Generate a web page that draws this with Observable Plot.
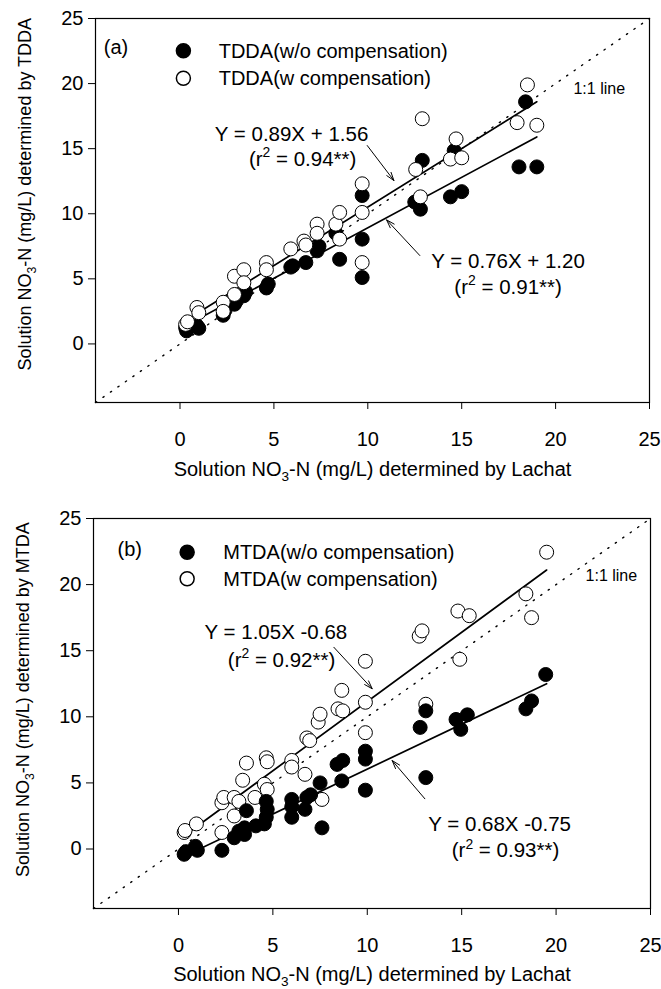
<!DOCTYPE html>
<html><head><meta charset="utf-8">
<script src="https://cdn.jsdelivr.net/npm/d3@7"></script>
<script src="https://cdn.jsdelivr.net/npm/@observablehq/plot@0.6"></script>
<style>
body{margin:0;background:#fff}
#chart svg{display:block}
</style>
</head><body><div id="chart"></div>
<script>
// ---------- data ----------
const xTicks = [0, 5, 10, 15, 20, 25];
const yTicks = [0, 5, 10, 15, 20, 25];
const oneToOne = [-4.5, 25];

// Panel (a) TDDA
const lachatA_wo = [0.3, 0.35, 0.9, 1.0, 2.3, 2.4, 2.9, 3.0, 3.4, 3.5, 4.6, 4.7, 5.9, 6.0, 6.7, 7.3, 7.4, 8.3, 8.5, 9.7, 9.7, 9.7, 12.5, 12.8, 12.9, 14.4, 14.6, 15.0, 18.05, 18.4, 19.0];
const tddaWo     = [1.25, 1.0, 1.4, 1.2, 2.2, 2.6, 3.05, 3.3, 3.7, 4.0, 4.3, 4.6, 5.9, 6.0, 6.25, 7.15, 7.5, 8.5, 6.5, 11.4, 8.05, 5.1, 10.9, 10.35, 14.1, 11.3, 14.85, 11.7, 13.6, 18.6, 13.6];
const lachatA_w  = [0.3, 0.4, 0.9, 1.0, 2.3, 2.3, 2.9, 2.9, 3.4, 3.4, 4.6, 4.6, 5.9, 6.6, 6.7, 7.3, 7.3, 8.3, 8.5, 8.5, 9.7, 9.7, 9.7, 12.55, 12.8, 12.9, 14.4, 14.7, 15.0, 17.95, 18.5, 19.0];
const tddaW      = [1.5, 1.7, 2.8, 2.4, 3.2, 2.5, 5.2, 3.8, 5.7, 4.7, 6.25, 5.7, 7.3, 7.9, 7.6, 9.2, 8.5, 9.2, 10.1, 8.05, 12.3, 10.1, 6.25, 13.4, 11.3, 17.3, 14.2, 15.75, 14.3, 17.0, 19.9, 16.8];
const fitXA      = [0.3, 19.0];
const fitA_w     = [1.8, 18.6];
const fitA_wo    = [1.4, 15.9];

// Panel (b) MTDA
const lachatB_wo = [0.3, 0.4, 0.9, 1.0, 2.3, 2.95, 3.2, 3.5, 3.5, 3.6, 4.1, 4.55, 4.65, 4.7, 4.65, 6.0, 6.0, 6.0, 6.7, 6.8, 7.0, 7.5, 7.6, 8.4, 8.7, 8.65, 9.9, 9.9, 9.9, 12.8, 13.1, 13.1, 14.7, 14.95, 15.3, 18.4, 18.7, 19.45];
const mtdaWo     = [-0.4, -0.2, 0.2, -0.1, -0.1, 0.85, 1.35, 1.6, 1.1, 2.9, 1.75, 1.9, 2.4, 3.0, 3.6, 2.4, 3.2, 3.75, 3.0, 3.9, 4.1, 5.0, 1.6, 6.4, 6.7, 5.15, 7.4, 6.8, 4.45, 9.2, 10.45, 5.4, 9.8, 9.05, 10.15, 10.6, 11.2, 13.2];
const lachatB_w  = [0.3, 0.35, 0.95, 2.3, 2.3, 2.4, 2.95, 2.95, 3.2, 3.4, 3.6, 4.05, 4.55, 4.65, 4.7, 4.7, 6.0, 6.0, 6.7, 6.8, 6.95, 7.4, 7.5, 7.6, 8.45, 8.7, 8.65, 9.9, 9.9, 9.9, 12.75, 12.9, 13.1, 14.8, 14.9, 15.4, 18.4, 18.7, 19.5];
const mtdaW      = [1.25, 1.4, 1.9, 1.25, 3.5, 3.9, 3.9, 2.5, 3.6, 5.2, 6.5, 3.9, 4.9, 6.9, 6.6, 4.5, 6.7, 6.2, 5.65, 8.4, 8.2, 9.6, 10.2, 3.75, 10.6, 10.45, 12.0, 14.2, 11.1, 8.8, 16.1, 16.5, 10.95, 18.0, 14.35, 17.65, 19.3, 17.5, 22.45];
const fitXB      = [0.3, 19.5];
const fitB_w     = [1.0, 21.1];
const fitB_wo    = [-0.55, 12.5];

// texts
const xTitle = "Solution NO₃-N (mg/L) determined by Lachat";
const yTitleA = "Solution NO₃-N (mg/L) determined by TDDA";
const yTitleB = "Solution NO₃-N (mg/L) determined by MTDA";
const legendA = ["TDDA(w/o compensation)", "TDDA(w compensation)"];
const legendB = ["MTDA(w/o compensation)", "MTDA(w compensation)"];
const eqA = ["Y = 0.89X + 1.56", "(r² = 0.94**)", "Y = 0.76X + 1.20", "(r² = 0.91**)"];
const eqB = ["Y = 1.05X -0.68", "(r² = 0.92**)", "Y = 0.68X -0.75", "(r² = 0.93**)"];
const oneLabel = "1:1 line";

const FONT = "'Liberation Sans', Arial, Helvetica, sans-serif";
const T = (s, o) => Plot.text([s], {text: d => d, fill: "black", ...o});

function panel(c) {
  const dotsWo = Plot.dot(c.yWo, {x: c.xWo, y: c.yWo, r: 7, fill: "black", stroke: "black", strokeWidth: 1});
  const dotsW = Plot.dot(c.yW, {x: c.xW, y: c.yW, r: 7, fill: "white", stroke: "black", strokeWidth: 1});
  return Plot.plot({
    width: 661, height: c.height,
    marginLeft: c.ml, marginRight: c.mr, marginTop: c.mt, marginBottom: c.mb,
    x: {domain: [-4.5, 25]},
    y: {domain: [-4.5, 25]},
    style: {fontFamily: FONT, fontSize: "20px", background: "white", color: "black", overflow: "visible"},
    marks: [
      Plot.line(oneToOne, {x: d => d, y: d => d, stroke: "black", strokeWidth: 1.4, strokeDasharray: "1.3,7.8", strokeLinecap: "round"}),
      Plot.line(c.fitW, {x: c.fitX, y: c.fitW, stroke: "black", strokeWidth: 1.7}),
      Plot.line(c.fitWo, {x: c.fitX, y: c.fitWo, stroke: "black", strokeWidth: 1.7}),
      ...(c.openOnTop ? [dotsWo, dotsW] : [dotsW, dotsWo]),
      Plot.frame({stroke: "black", strokeWidth: 1.2}),
      Plot.axisX({ticks: xTicks, tickSize: 7, tickPadding: 22, label: null, fontSize: 20}),
      Plot.axisY({ticks: yTicks, tickSize: 7, tickPadding: 5, label: null, fontSize: 20}),
      T(xTitle, {frameAnchor: "bottom", dy: c.xTitleDy, lineAnchor: "bottom", fontSize: 20}),
      T(c.yTitle, {x: -4.5, y: c.yTitleY, rotate: -90, dx: -70, fontSize: 18}),
      T(c.tag, {x: c.tagX, y: c.tagY, textAnchor: "start", lineAnchor: "bottom", fontSize: 20}),
      Plot.dot([0], {x: c.legX, y: c.legY1, r: 7, fill: "black", stroke: "black"}),
      Plot.dot([0], {x: c.legX, y: c.legY2, r: 7, fill: "white", stroke: "black"}),
      T(c.legend[0], {x: c.legTX, y: c.legTY1, textAnchor: "start", lineAnchor: "bottom", fontSize: 20}),
      T(c.legend[1], {x: c.legTX, y: c.legTY2, textAnchor: "start", lineAnchor: "bottom", fontSize: 20}),
      T(oneLabel, {x: c.oneX, y: c.oneY, textAnchor: "start", lineAnchor: "bottom", fontSize: 16}),
      T(c.eq[0], {x: c.e1x, y: c.e1y, lineAnchor: "bottom", fontSize: 20.5}),
      T(c.eq[1], {x: c.e2x, y: c.e2y, lineAnchor: "bottom", fontSize: 20.5}),
      T(c.eq[2], {x: c.e3x, y: c.e3y, lineAnchor: "bottom", fontSize: 20.5}),
      T(c.eq[3], {x: c.e4x, y: c.e4y, lineAnchor: "bottom", fontSize: 20.5}),
      Plot.arrow([0], {x1: c.a1[0], y1: c.a1[1], x2: c.a1[2], y2: c.a1[3], stroke: "black", strokeWidth: 1, headLength: 13, headAngle: 36}),
      Plot.arrow([0], {x1: c.a2[0], y1: c.a2[1], x2: c.a2[2], y2: c.a2[3], stroke: "black", strokeWidth: 1, headLength: 13, headAngle: 36})
    ]
  });
}

const plotA = panel({
  height: 495, ml: 95, mr: 12, mt: 18, mb: 93, xTitleDy: 73,
  xWo: lachatA_wo, yWo: tddaWo, xW: lachatA_w, yW: tddaW,
  fitX: fitXA, fitW: fitA_w, fitWo: fitA_wo, openOnTop: true,
  yTitle: yTitleA, yTitleY: 11.5, tag: "(a)", tagX: -4.06, tagY: 22.3,
  legend: legendA, legX: 0.18, legY1: 22.53, legY2: 20.41, legTX: 2.06, legTY1: 21.99, legTY2: 19.91,
  oneX: 20.95, oneY: 19.23,
  eq: eqA, e1x: 5.94, e1y: 15.62, e2x: 6.53, e2y: 13.69, e3x: 17.47, e3y: 5.87, e4x: 17.47, e4y: 3.87,
  a1: [9.97, 15.24, 11.39, 12.55], a2: [12.77, 6.79, 11.0, 9.53]
});
const plotB = panel({
  height: 494, ml: 93, mr: 11, mt: 23, mb: 81, xTitleDy: 72,
  xWo: lachatB_wo, yWo: mtdaWo, xW: lachatB_w, yW: mtdaW,
  fitX: fitXB, fitW: fitB_w, fitWo: fitB_wo, openOnTop: false,
  yTitle: yTitleB, yTitleY: 11.3, tag: "(b)", tagX: -3.23, tagY: 22.13,
  legend: legendB, legX: 0.46, legY1: 22.45, legY2: 20.44, legTX: 2.37, legTY1: 21.97, legTY2: 19.93,
  oneX: 21.56, oneY: 20.31,
  eq: eqB, e1x: 5.16, e1y: 15.92, e2x: 5.46, e2y: 13.8, e3x: 17.01, e3y: 1.4, e4x: 17.32, e4y: -0.64,
  a1: [8.23, 15.26, 10.26, 12.12], a2: [13.05, 3.8, 11.32, 6.69]
});

const root = document.getElementById("chart");
root.appendChild(plotA);
root.appendChild(plotB);

// render sub/superscripts as real shifted text
const NS = "http://www.w3.org/2000/svg";
root.querySelectorAll("text").forEach(t => {
  const s = t.textContent;
  if (!/[²₃]/.test(s) || t.querySelector("tspan")) return;
  const fs = parseFloat(getComputedStyle(t).fontSize) || 20;
  t.textContent = "";
  let shift = 0;
  s.split(/([²₃])/).forEach(p => {
    if (!p) return;
    const ts = document.createElementNS(NS, "tspan");
    if (p === "²" || p === "₃") {
      const d = p === "²" ? -0.42 * fs : 0.25 * fs;
      ts.setAttribute("dy", d - shift);
      shift = d;
      ts.setAttribute("font-size", 0.68 * fs);
      ts.textContent = p === "²" ? "2" : "3";
    } else {
      if (shift) { ts.setAttribute("dy", -shift); shift = 0; }
      ts.textContent = p;
    }
    t.appendChild(ts);
  });
});
</script></body></html>
